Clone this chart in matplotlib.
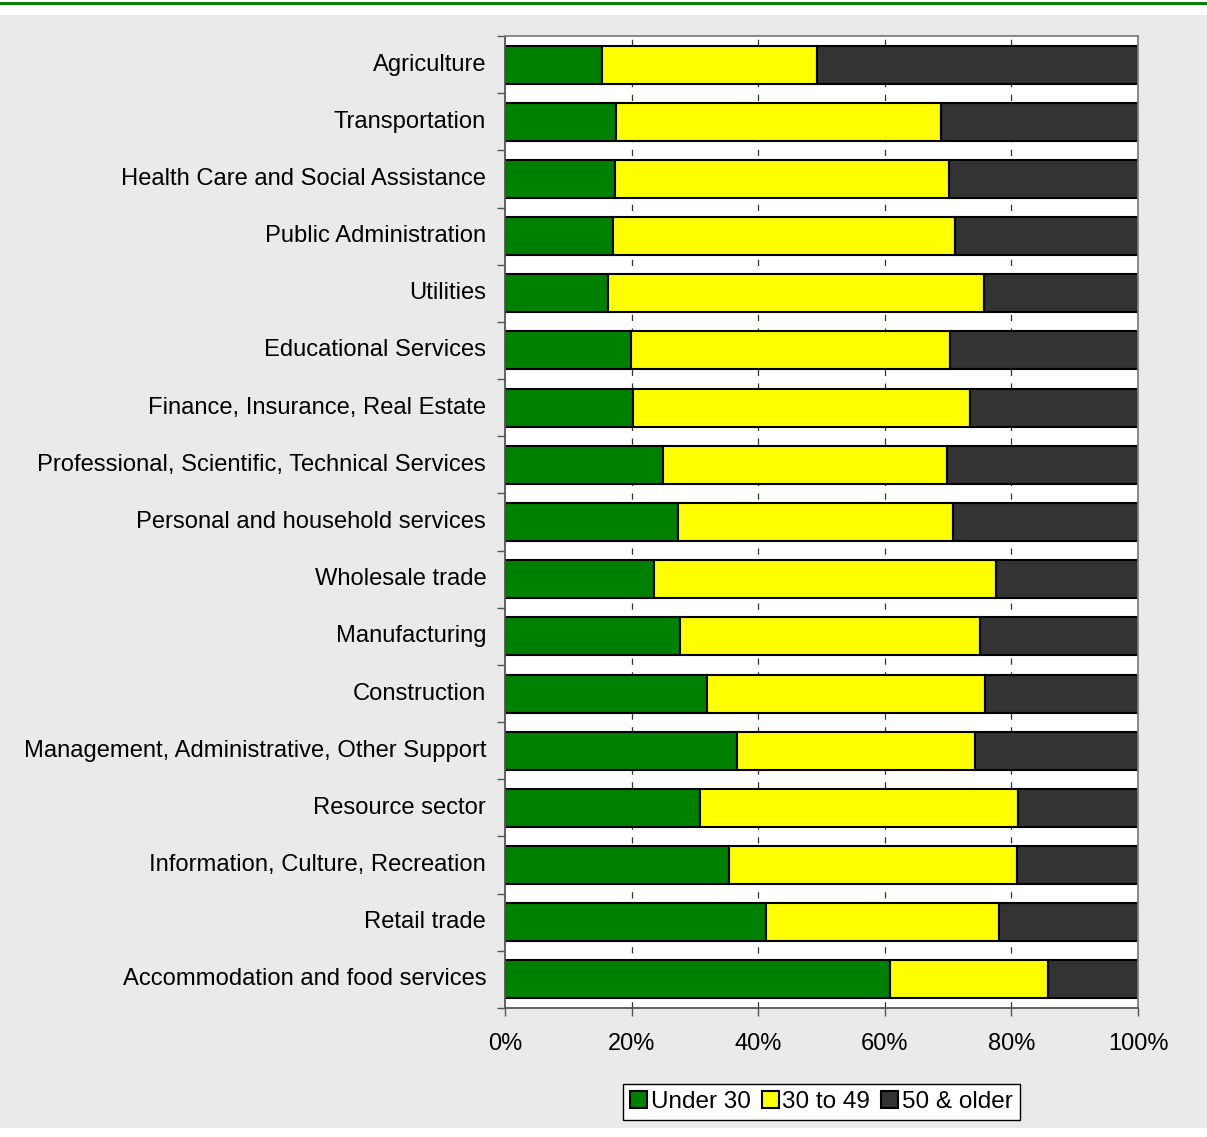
import matplotlib.pyplot as plt
from matplotlib.patches import Rectangle
from matplotlib.ticker import FixedLocator, FuncFormatter

plt.rcParams['font.family'] = ['Liberation Sans', 'DejaVu Sans']

industries = [
    "Agriculture",
    "Transportation",
    "Health Care and Social Assistance",
    "Public Administration",
    "Utilities",
    "Educational Services",
    "Finance, Insurance, Real Estate",
    "Professional, Scientific, Technical Services",
    "Personal and household services",
    "Wholesale trade",
    "Manufacturing",
    "Construction",
    "Management, Administrative, Other Support",
    "Resource sector",
    "Information, Culture, Recreation",
    "Retail trade",
    "Accommodation and food services",
]

# share of workers by age group (%)
under_30 = [15.4, 17.6, 17.3, 17.0, 16.2, 19.9, 20.3, 25.0, 27.4,
            23.6, 27.6, 31.9, 36.7, 30.8, 35.4, 41.3, 60.8]
age_30_49 = [33.9, 51.3, 52.8, 54.1, 59.4, 50.4, 53.1, 44.9, 43.3,
             54.0, 47.4, 44.0, 37.6, 50.3, 45.5, 36.8, 25.0]
age_50_plus = [50.7, 31.1, 29.9, 28.9, 24.4, 29.7, 26.6, 30.1, 29.3,
               22.4, 25.0, 24.1, 25.7, 18.9, 19.1, 21.9, 14.2]

series = [
    ("Under 30", under_30, "#008000"),
    ("30 to 49", age_30_49, "#FFFF00"),
    ("50 & older", age_50_plus, "#333333"),
]

W, H = 1207, 1137
fig = plt.figure(figsize=(W / 100, H / 100), dpi=100, facecolor="white")

# grey panel and green rule across the top
fig.patches.append(Rectangle((0, 1 - 1128 / H), 1, (1128 - 15) / H,
                             transform=fig.transFigure, facecolor="#EAEAEA",
                             edgecolor="none", zorder=-10))
fig.patches.append(Rectangle((0, 1 - 5 / H), 1, 3 / H,
                             transform=fig.transFigure, facecolor="#008000",
                             edgecolor="none", zorder=-10))

ax = fig.add_axes([505 / W, 1 - 1008 / H, 633 / W, 972 / H])
ax.set_facecolor("white")

pos = list(range(len(industries)))
left = [0.0] * len(industries)
for name, vals, color in series:
    ax.barh(pos, vals, left=left, height=0.665, color=color,
            edgecolor="black", linewidth=1.5, label=name, zorder=3)
    left = [l + v for l, v in zip(left, vals)]

ax.set_xlim(0, 100)
ax.set_ylim(len(industries) - 0.5, -0.5)

ax.xaxis.set_major_locator(FixedLocator([0, 20, 40, 60, 80, 100]))
ax.xaxis.set_major_formatter(FuncFormatter(lambda v, p: f"{v:.0f}%"))
ax.tick_params(axis="x", direction="out", length=6, width=1,
               color="#555555", pad=12, labelsize=17)

ax.set_yticks(pos)
ax.set_yticklabels(industries)
for lab in ax.get_yticklabels():
    lab.set_va("center")
ax.set_yticks([p - 0.5 for p in pos] + [len(pos) - 0.5], minor=True)
ax.tick_params(axis="y", which="major", length=0, pad=13.5, labelsize=17.1)
ax.tick_params(axis="y", which="minor", direction="out", length=5.5,
               width=1, color="#555555")

for x in [20, 40, 60, 80]:
    ax.axvline(x, color="#333333", linewidth=0.9,
               linestyle=(0, (5, 6)), zorder=1)

for side, spine in ax.spines.items():
    spine.set_color("#808080" if side in ("top", "right") else "#555555")
    spine.set_linewidth(1.3)
    spine.set_zorder(4)

leg = fig.legend(loc="center", bbox_to_anchor=(821.5 / W, 1 - 1102 / H),
                 ncol=3, fontsize=17.5, frameon=True, fancybox=False,
                 edgecolor="black", facecolor="white", framealpha=1,
                 handlelength=0.7, handleheight=0.7, handletextpad=0.15,
                 columnspacing=0.45, borderpad=0.3, borderaxespad=0)
leg.get_frame().set_linewidth(1.0)

fig.savefig("out.png", dpi=100, facecolor=fig.get_facecolor())
